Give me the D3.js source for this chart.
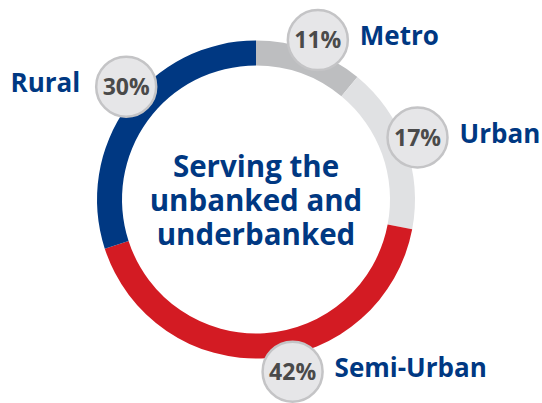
<!DOCTYPE html>
<html>
<head>
<meta charset="utf-8">
<script src="https://cdn.jsdelivr.net/npm/d3@7"></script>
<style>
  html, body { margin: 0; padding: 0; background: #fff; }
  svg { display: block; font-family: "Open Sans", "Noto Sans", sans-serif; }
</style>
</head>
<body>
<svg id="chart" width="542" height="403"></svg>
<script>
// Branch distribution by population group (share of total, %)
const categories = ["Metro", "Urban", "Semi-Urban", "Rural"];
const shares = [11, 17, 42, 30];
const segmentColors = ["#bdbec0", "#e0e1e3", "#d31b23", "#003882"];
const titleLines = ["Serving the", "unbanked and", "underbanked"];

// Layout: small angular nudges (degrees) and radii for the value bubbles
const bubbleNudge = [1.4, -1.2, -8.4, 5];
const bubbleRadius = [171, 173, 176, 172];
// Which side of its bubble each category label sits on
const labelSide = ["right", "right", "right", "left"];

const cx = 256, cy = 199.5;
const outerR = 159, innerR = 134;
const navy = "#003882";

const svg = d3.select("#chart");
const g = svg.append("g").attr("transform", `translate(${cx},${cy})`);

const data = categories.map((c, i) => ({ name: c, value: shares[i], color: segmentColors[i], i }));

const pie = d3.pie().sort(null).value(d => d.value).startAngle(0).endAngle(2 * Math.PI);
const arcs = pie(data);
const arc = d3.arc().innerRadius(innerR).outerRadius(outerR);

g.selectAll("path.seg")
  .data(arcs)
  .join("path")
  .attr("class", "seg")
  .attr("d", arc)
  .attr("fill", d => d.data.color);

// Centre title, one text element per line
g.selectAll("text.title")
  .data(titleLines)
  .join("text")
  .attr("class", "title")
  .attr("text-anchor", "middle")
  .attr("fill", navy)
  .attr("font-weight", 700)
  .attr("font-size", 29.5)
  .attr("y", (t, k) => -22.5 + k * 34)
  .text(t => t);

// Value bubbles and category labels
const bubbles = g.selectAll("g.bubble")
  .data(arcs)
  .join("g")
  .attr("class", "bubble")
  .attr("transform", d => {
    const i = d.data.i;
    const a = (d.startAngle + d.endAngle) / 2 + bubbleNudge[i] * Math.PI / 180;
    const r = bubbleRadius[i];
    return `translate(${Math.sin(a) * r},${-Math.cos(a) * r})`;
  });

bubbles.append("circle")
  .attr("r", 30)
  .attr("fill", "#e6e6e8")
  .attr("stroke", "#c4c4c6")
  .attr("stroke-width", 2.5);

bubbles.append("text")
  .attr("text-anchor", "middle")
  .attr("dy", "0.36em")
  .attr("fill", "#4a4a4a")
  .attr("font-weight", 700)
  .attr("font-size", 23)
  .text(d => d3.format("d")(d.data.value) + "%");

bubbles.append("text")
  .attr("text-anchor", d => labelSide[d.data.i] === "right" ? "start" : "end")
  .attr("x", d => labelSide[d.data.i] === "right" ? 42 : -46)
  .attr("y", 5)
  .attr("fill", navy)
  .attr("font-weight", 700)
  .attr("font-size", 26)
  .text(d => d.data.name);
</script>
</body>
</html>
